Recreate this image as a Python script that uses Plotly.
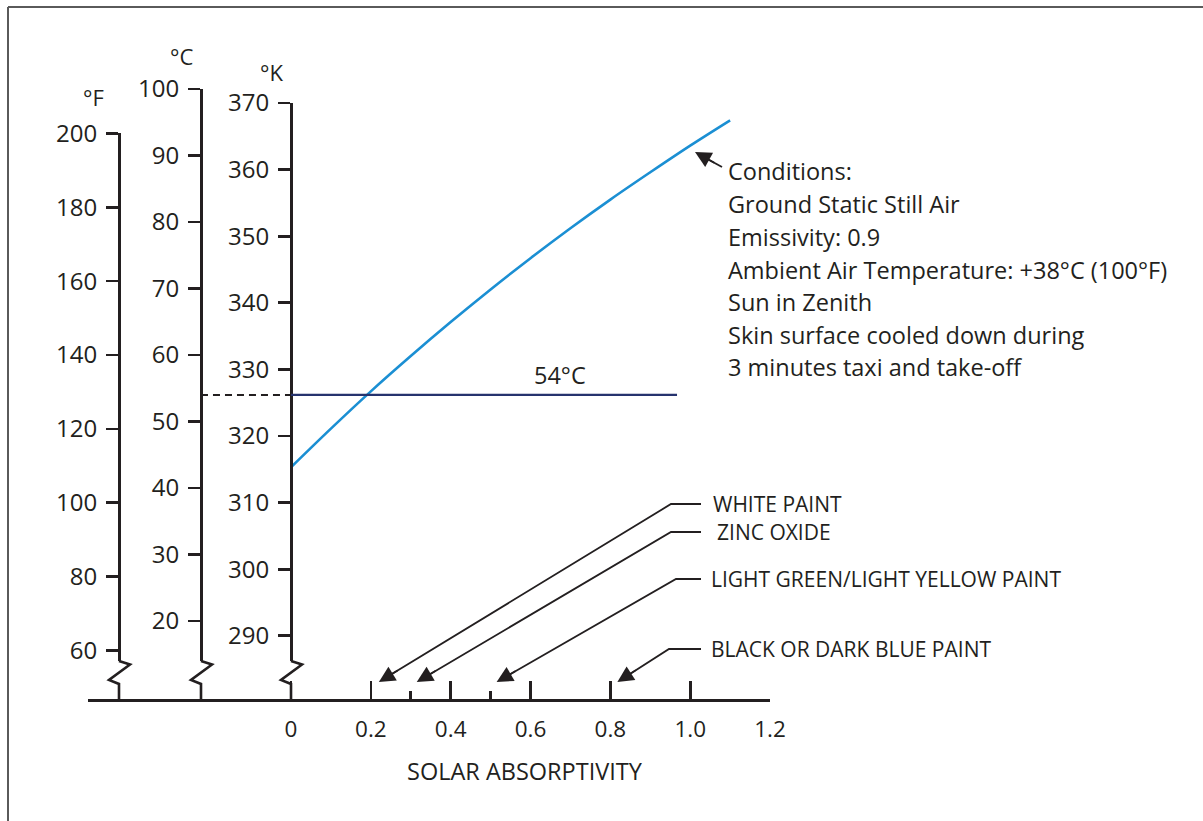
import math
import plotly.graph_objects as go

# ---------------- data ----------------
absorptivity = [0.0, 0.1, 0.2, 0.3, 0.4, 0.5, 0.6, 0.7, 0.8, 0.9, 1.0, 1.1]
skin_temp_K = [315.3, 321.1, 326.7, 332.0, 337.1, 342.0, 346.7, 351.2, 355.5, 359.6, 363.6, 367.4]

limit_temp_C = 54
limit_label = "54°C"
limit_line_start = -0.2255   # at the °C axis
limit_line_end = 0.967

paint_names = ["WHITE PAINT", "ZINC OXIDE", "LIGHT GREEN/LIGHT YELLOW PAINT", "BLACK OR DARK BLUE PAINT"]
paint_absorptivity = [0.2, 0.3, 0.5, 0.8]

x_ticks = [0, 0.2, 0.4, 0.6, 0.8, 1.0, 1.2]
x_tick_text = ["0", "0.2", "0.4", "0.6", "0.8", "1.0", "1.2"]
x_minor_ticks = [0.3, 0.5]
k_ticks = [290, 300, 310, 320, 330, 340, 350, 360, 370]
c_ticks = [20, 30, 40, 50, 60, 70, 80, 90, 100]
f_ticks = [60, 80, 100, 120, 140, 160, 180, 200]

conditions = [
    "Conditions:",
    "Ground Static Still Air",
    "Emissivity: 0.9",
    "Ambient Air Temperature: +38°C (100°F)",
    "Sun in Zenith",
    "Skin surface cooled down during",
    "3 minutes taxi and take-off",
]
x_title = "SOLAR ABSORPTIVITY"

# ---------------- layout geometry ----------------
W, H = 1203, 821
FONT = "Open Sans"
INK = "#231f20"


def px(x):
    return x / W


def py(y):
    return 1 - y / H


X0_PX, X_SCALE = 291, 399.2          # px of absorptivity 0, px per unit
X_LEFT_PX, X_RIGHT_PX = 88, 770
AXIS_Y = 700
BREAK_TOP = 661

K_AX_PX, K_TOP_PX, K_SCALE = 291, 103, 6.66
C_AX_PX, C_TOP_PX, C_SCALE = 201, 89, 6.65
F_AX_PX = 119
F_SCALE = C_SCALE / 1.8
F_TOP_PX = C_TOP_PX + (100 - (200 - 32) / 1.8) * C_SCALE

fig = go.Figure()

fig.add_trace(go.Scatter(x=absorptivity, y=skin_temp_K, mode="lines",
                         line=dict(color="#1b8fd3", width=2.6, shape="spline"),
                         xaxis="x", yaxis="y", hoverinfo="skip", showlegend=False))
fig.add_trace(go.Scatter(x=[limit_line_start, 0], y=[limit_temp_C, limit_temp_C], mode="lines",
                         line=dict(color=INK, width=2, dash="7px,5px"),
                         xaxis="x", yaxis="y2", hoverinfo="skip", showlegend=False))
fig.add_trace(go.Scatter(x=[0, limit_line_end], y=[limit_temp_C, limit_temp_C], mode="lines",
                         line=dict(color="#26336e", width=2.4),
                         xaxis="x", yaxis="y2", hoverinfo="skip", showlegend=False))
fig.add_trace(go.Scatter(x=[None], y=[None], xaxis="x", yaxis="y3",
                         hoverinfo="skip", showlegend=False))

tickfont = dict(family=FONT, size=24, color=INK)
common_y = dict(anchor="free", side="left", showline=True, linecolor=INK, linewidth=2.6,
                ticks="outside", ticklen=12, tickwidth=2.6, tickcolor=INK,
                showgrid=False, zeroline=False, tickfont=tickfont, ticklabelstandoff=4,
                automargin=False, fixedrange=True)

fig.update_layout(
    width=W, height=H, autosize=False,
    margin=dict(l=0, r=0, t=0, b=0, pad=0, autoexpand=False),
    showlegend=False,
    paper_bgcolor="white", plot_bgcolor="rgba(0,0,0,0)",
    xaxis=dict(domain=[px(X_LEFT_PX), px(X_RIGHT_PX)],
               range=[(X_LEFT_PX - X0_PX) / X_SCALE, (X_RIGHT_PX - X0_PX) / X_SCALE],
               anchor="free", position=py(AXIS_Y),
               showline=True, linecolor=INK, linewidth=2.6,
               ticks="inside", ticklen=18, tickwidth=2.6, tickcolor=INK,
               tickvals=x_ticks, ticktext=x_tick_text,
               minor=dict(tickvals=x_minor_ticks, ticks="inside", ticklen=8, tickwidth=2.6, tickcolor=INK),
               showgrid=False, zeroline=False, tickfont=dict(family=FONT, size=22.5, color=INK),
               ticklabelstandoff=8, automargin=False, fixedrange=True),
    yaxis=dict(domain=[py(BREAK_TOP), py(K_TOP_PX)],
               range=[370 - (BREAK_TOP - K_TOP_PX) / K_SCALE, 370],
               position=px(K_AX_PX), tickvals=k_ticks, **common_y),
    yaxis2=dict(domain=[py(BREAK_TOP), py(C_TOP_PX)],
                range=[100 - (BREAK_TOP - C_TOP_PX) / C_SCALE, 100],
                position=px(C_AX_PX), tickvals=c_ticks, **common_y),
    yaxis3=dict(domain=[py(BREAK_TOP), py(F_TOP_PX)],
                range=[200 - (BREAK_TOP - F_TOP_PX) / F_SCALE, 200],
                position=px(F_AX_PX), tickvals=f_ticks, **common_y),
)

shapes = []
# frame (top and left edges)
shapes.append(dict(type="line", xref="paper", yref="paper", x0=px(8), y0=py(7), x1=1, y1=py(7),
                   line=dict(color="#5a5a5a", width=2)))
shapes.append(dict(type="line", xref="paper", yref="paper", x0=px(8), y0=py(7), x1=px(8), y1=0,
                   line=dict(color="#5a5a5a", width=2)))
# axis break zigzags
for ax_px in (F_AX_PX, C_AX_PX, K_AX_PX):
    pts = [(ax_px, BREAK_TOP), (ax_px + 11, 664.5), (ax_px - 10, 680), (ax_px, 684), (ax_px, AXIS_Y)]
    path = "M " + " L ".join(f"{px(a):.5f},{py(b):.5f}" for a, b in pts)
    shapes.append(dict(type="path", xref="paper", yref="paper", path=path,
                       line=dict(color=INK, width=2.6)))

annotations = []


def arrow_head(tip_x, tip_y, from_x, from_y, **ref):
    """short annotation arrow (head only) pointing at tip, lying on the leader line"""
    dx, dy = from_x - tip_x, from_y - tip_y
    n = math.hypot(dx, dy)
    back = 22
    return dict(text="", x=tip_x if "x" not in ref else ref["x"], y=py(tip_y),
                xref=ref.get("xref", "paper"), yref="paper", xshift=ref.get("xshift", 0),
                ax=dx / n * back, ay=dy / n * back, axref="pixel", ayref="pixel",
                showarrow=True, arrowhead=2, arrowsize=1.9, arrowwidth=1.7,
                arrowcolor=INK, font=dict(size=1), borderwidth=0, borderpad=0)


# unit headers
for txt, cx, cy in (("°F", 93.5, 97), ("°C", 181.5, 56), ("°K", 271, 72)):
    annotations.append(dict(text=txt, xref="paper", yref="paper", x=px(cx), y=py(cy),
                            showarrow=False, xanchor="center", yanchor="middle",
                            font=dict(family=FONT, size=22, color=INK)))
# x axis title
annotations.append(dict(text=x_title, xref="paper", yref="paper", x=px(525), y=py(771),
                        showarrow=False, xanchor="center", yanchor="middle",
                        font=dict(family=FONT, size=23.5, color=INK)))
# limit label
annotations.append(dict(text=limit_label, x=0.674, y=limit_temp_C, xref="x", yref="y2",
                        showarrow=False, xanchor="center", yanchor="bottom", yshift=2,
                        font=dict(family=FONT, size=23.5, color=INK)))
# conditions text
cond_y = [171, 204, 237, 270, 302, 335, 367]
for line, yy in zip(conditions, cond_y):
    annotations.append(dict(text=line, xref="paper", yref="paper", x=px(726), y=py(yy),
                            showarrow=False, xanchor="left", yanchor="middle",
                            font=dict(family=FONT, size=23.5, color=INK)))
# conditions pointer
shapes.append(dict(type="line", xref="paper", yref="paper", x0=px(722), y0=py(167),
                   x1=px(700), y1=py(155), line=dict(color=INK, width=1.8)))
a = arrow_head(695, 152, 722, 167)
a["x"] = px(695)
annotations.append(a)

# paint pointers
bend_pts = [(671, 504), (671, 532), (676, 579), (669, 649)]
label_x = [711, 715, 709, 709]
tip_shift = [8, 6, 6, 7]
TIP_Y = 682
for name, val, (bx, by), lx, sh in zip(paint_names, paint_absorptivity, bend_pts, label_x, tip_shift):
    tip_px = X0_PX + val * X_SCALE + sh
    dx, dy = bx - tip_px, by - TIP_Y
    n = math.hypot(dx, dy)
    end_x, end_y = tip_px + dx / n * 8, TIP_Y + dy / n * 8
    path = f"M {px(701):.5f},{py(by):.5f} L {px(bx):.5f},{py(by):.5f} L {px(end_x):.5f},{py(end_y):.5f}"
    shapes.append(dict(type="path", xref="paper", yref="paper", path=path,
                       line=dict(color=INK, width=1.8)))
    annotations.append(arrow_head(tip_px, TIP_Y, bx, by, x=val, xref="x", xshift=sh))
    annotations.append(dict(text=name, xref="paper", yref="paper", x=px(lx), y=py(by),
                            showarrow=False, xanchor="left", yanchor="middle",
                            font=dict(family=FONT, size=21, color=INK)))

fig.update_layout(shapes=shapes, annotations=annotations)

post = """
document.documentElement.style.margin='0';
document.body.style.margin='0';
document.body.style.padding='0';
document.body.style.overflow='hidden';
"""
fig.write_html("out.html", post_script=post, config={"displayModeBar": False, "staticPlot": True})
